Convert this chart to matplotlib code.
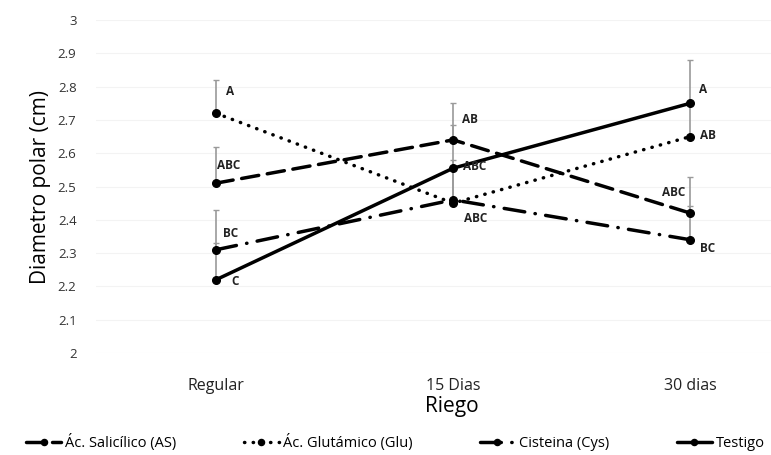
import numpy as np
import matplotlib.pyplot as plt

plt.rcParams['font.family'] = ['Open Sans', 'DejaVu Sans']

riego = ['Regular', '15 Dias', '30 dias']

salicilico = [2.51, 2.64, 2.42]
glutamico = [2.72, 2.45, 2.65]
cisteina = [2.31, 2.46, 2.34]
testigo = [2.22, 2.555, 2.75]

# error (solo hacia arriba)
err_sal = [0.11, 0.11, 0.11]
err_glu = [0.10, 0.13, 0.10]
err_cys = [0.12, 0.10, 0.10]
err_tes = [0.11, 0.13, 0.13]

letras_sal = ['ABC', 'AB', 'ABC']
letras_glu = ['A', 'ABC', 'AB']
letras_cys = ['BC', '', 'BC']
letras_tes = ['C', 'ABC', 'A']

x = np.arange(len(riego))

fig = plt.figure(figsize=(7.71, 4.55), dpi=100)
ax = fig.add_axes([96/771, 1 - 353/455, (771 - 96)/771, 333/455])

series = [
    (salicilico, err_sal, (0, (5, 2.5)), 'Ác. Salicílico (AS)'),
    (glutamico, err_glu, (0, (0.1, 2.4)), 'Ác. Glutámico (Glu)'),
    (cisteina, err_cys, (0, (6, 3, 0.1, 3)), 'Cisteina (Cys)'),
    (testigo, err_tes, '-', 'Testigo'),
]

for vals, err, ls, nombre in series:
    ax.errorbar(x, vals, yerr=[np.zeros(3), err], fmt='none',
                ecolor='#9a9a9a', elinewidth=1.2, capsize=2.5, capthick=1,
                zorder=1)

for vals, err, ls, nombre in series:
    ax.plot(x, vals, color='black', linestyle=ls, linewidth=2.5,
            dash_capstyle='round', solid_capstyle='round',
            marker='o', markersize=5.5, label=nombre, zorder=3)

# letras de significancia
fs = 8.5
kw = dict(fontsize=fs, fontweight='bold', color='#222222',
          textcoords='offset points', va='center')
offs = {
    ('glu', 0): (7, 16, 'left'), ('sal', 0): (1, 13, 'left'),
    ('cys', 0): (5, 12, 'left'), ('tes', 0): (11, -1, 'left'),
    ('sal', 1): (6, 15, 'left'), ('tes', 1): (7, 1, 'left'),
    ('glu', 1): (8, -11, 'left'),
    ('tes', 2): (6, 10, 'left'), ('glu', 2): (7, 1, 'left'),
    ('sal', 2): (-4, 15, 'right'), ('cys', 2): (7, -6, 'left'),
}
for key, vals, letras in [('sal', salicilico, letras_sal), ('glu', glutamico, letras_glu),
                          ('cys', cisteina, letras_cys), ('tes', testigo, letras_tes)]:
    for i in range(3):
        if (key, i) in offs and letras[i]:
            dx, dy, ha = offs[(key, i)]
            ax.annotate(letras[i], (x[i], vals[i]), xytext=(dx, dy), ha=ha, **kw)

ax.set_xlim(-0.506, 2.34)
ax.set_ylim(2, 3)
ax.set_yticks(np.arange(2, 3.01, 0.1))
ax.set_yticklabels(['2', '2.1', '2.2', '2.3', '2.4', '2.5', '2.6', '2.7', '2.8', '2.9', '3'])
ax.set_xticks(x)
ax.set_xticklabels(riego)
ax.tick_params(axis='y', length=0, pad=14, labelsize=9.5, labelcolor='#333333')
ax.tick_params(axis='x', length=0, pad=18, labelsize=11.5, labelcolor='#222222')
ax.grid(axis='y', color='#f3f3f3', linewidth=0.8)
ax.set_axisbelow(True)
for s in ax.spines.values():
    s.set_visible(False)

ax.set_ylabel('Diametro polar (cm)', fontsize=15, labelpad=5)
ax.set_xlabel('Riego', fontsize=15, labelpad=2)
ax.xaxis.set_label_coords(0.527, -0.13)

fig.legend(*ax.get_legend_handles_labels(), loc='center', bbox_to_anchor=(0.513, 0.027),
           ncol=4, frameon=False, fontsize=10.5, handlelength=2.4, handletextpad=0.3,
           columnspacing=4.6, markerscale=0.8, borderaxespad=0, borderpad=0)

fig.savefig('out.png', dpi=100)
